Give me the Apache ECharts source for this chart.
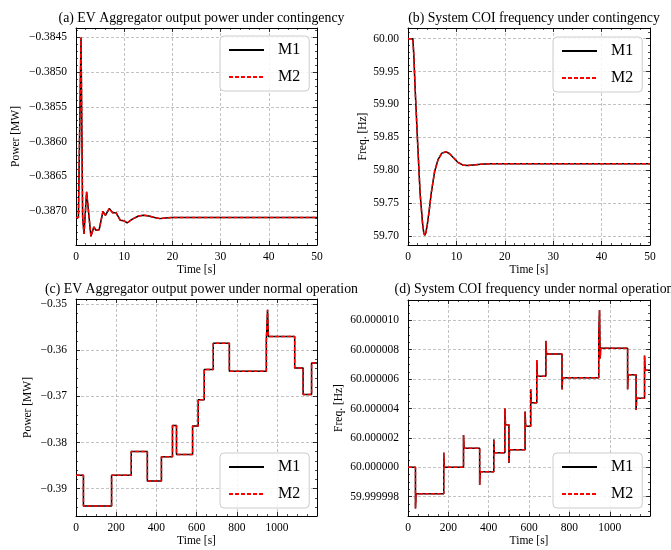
<!DOCTYPE html>
<html>
<head>
<meta charset="utf-8">
<script src="https://cdn.jsdelivr.net/npm/echarts@6/dist/echarts.min.js"></script>
<style>html,body{margin:0;padding:0;background:#fff}#c{width:671px;height:550px}</style>
</head>
<body>
<div id="c"></div>
<script>
// ---------- DATA ----------
// (a) EV aggregator output power under contingency [MW] vs time [s]
const aTime = [0, 0.5, 0.85, 1.04, 1.38, 1.66, 2.2, 3.1, 3.7, 4.15, 4.55, 4.8, 5.6, 6.1, 6.9, 7.6, 8.3, 9.2, 9.9, 10.6, 11.6, 13.0, 14.0, 15.1, 16.3, 17.4, 18.5, 20, 30, 40, 50];
const aM1 = [-0.387095, -0.387095, -0.387095, -0.38450, -0.38709, -0.38733, -0.386725, -0.387366, -0.387231, -0.387279, -0.387255, -0.38727, -0.387004, -0.387062, -0.386965, -0.387024, -0.387024, -0.387134, -0.38714, -0.387173, -0.38712, -0.387072, -0.387062, -0.387072, -0.387095, -0.38711, -0.38710, -0.387095, -0.387095, -0.387095, -0.387095];
const aM2 = [-0.387095, -0.387095, -0.387095, -0.38450, -0.38709, -0.38733, -0.386725, -0.387366, -0.387231, -0.387279, -0.387255, -0.38727, -0.387004, -0.387062, -0.386965, -0.387024, -0.387024, -0.387134, -0.38714, -0.387173, -0.38712, -0.387072, -0.387062, -0.387072, -0.387095, -0.38711, -0.38710, -0.387095, -0.387095, -0.387095, -0.387095];

// (b) System COI frequency under contingency [Hz]
const bTime = [0, 1.0, 1.2, 1.5, 2.0, 2.5, 3.0, 3.25, 3.45, 3.7, 4.0, 4.4, 4.8, 5.5, 6.2, 7.0, 7.9, 8.6, 9.4, 10.3, 11.3, 12.3, 13.5, 15, 17, 20, 30, 40, 50];
const bM1 = [60.0, 60.0, 59.975, 59.92, 59.84, 59.765, 59.72, 59.705, 59.701, 59.705, 59.718, 59.74, 59.765, 59.798, 59.816, 59.826, 59.828, 59.825, 59.819, 59.812, 59.808, 59.807, 59.808, 59.809, 59.81, 59.81, 59.81, 59.81, 59.81];
const bM2 = [60.0, 60.0, 59.975, 59.92, 59.84, 59.765, 59.72, 59.705, 59.701, 59.705, 59.718, 59.74, 59.765, 59.798, 59.816, 59.826, 59.828, 59.825, 59.819, 59.812, 59.808, 59.807, 59.808, 59.809, 59.81, 59.81, 59.81, 59.81, 59.81];

// (c) EV aggregator output power under normal operation [MW] (level from each time on)
const cTime = [0, 37, 177, 275, 355, 425, 480, 500, 580, 608, 638, 683, 763, 947, 953, 957, 1088, 1130, 1172, 1199];
const cM1 = [-0.38712, -0.39375, -0.38712, -0.38193, -0.38834, -0.38308, -0.37631, -0.38258, -0.37645, -0.37076, -0.36420, -0.35850, -0.36456, -0.35786, -0.35123, -0.35706, -0.36384, -0.36960, -0.36276, -0.36276];
const cM2 = [-0.38712, -0.39375, -0.38712, -0.38193, -0.38834, -0.38308, -0.37631, -0.38258, -0.37645, -0.37076, -0.36420, -0.35850, -0.36456, -0.35786, -0.35123, -0.35706, -0.36384, -0.36960, -0.36276, -0.36276];

// (d) System COI frequency under normal operation [Hz] (level from each time on)
const dTime = [0, 37, 40, 177, 180, 275, 278, 355, 358, 425, 428, 480, 483, 500, 503, 580, 583, 608, 611, 638, 641, 683, 686, 763, 766, 945, 949, 952, 955, 1088, 1091, 1130, 1133, 1172, 1175, 1199];
const dM1 = [60.0000000, 59.9999972, 59.9999982, 60.0000010, 60.0000000, 60.0000022, 60.0000013, 59.9999988, 59.9999997, 60.0000019, 60.0000010, 60.0000040, 60.0000029, 60.0000003, 60.0000012, 60.0000038, 60.0000028, 60.0000053, 60.0000044, 60.0000073, 60.0000062, 60.0000086, 60.0000077, 60.0000053, 60.0000061, 60.0000089, 60.0000107, 60.0000074, 60.0000081, 60.0000053, 60.0000063, 60.0000039, 60.0000047, 60.0000076, 60.0000066, 60.0000066];
const dM2 = [60.0000000, 59.9999972, 59.9999982, 60.0000010, 60.0000000, 60.0000022, 60.0000013, 59.9999988, 59.9999997, 60.0000019, 60.0000010, 60.0000040, 60.0000029, 60.0000003, 60.0000012, 60.0000038, 60.0000028, 60.0000053, 60.0000044, 60.0000073, 60.0000062, 60.0000086, 60.0000077, 60.0000053, 60.0000061, 60.0000089, 60.0000107, 60.0000074, 60.0000081, 60.0000053, 60.0000063, 60.0000039, 60.0000047, 60.0000076, 60.0000066, 60.0000066];

const titles = [
  '(a) EV Aggregator output power under contingency',
  '(b) System COI frequency under contingency',
  '(c) EV Aggregator output power under normal operation',
  '(d) System COI frequency under normal operation'
];
const seriesNames = ['M1', 'M2'];
const xName = 'Time [s]';
const yNames = ['Power [MW]', 'Freq. [Hz]', 'Power [MW]', 'Freq. [Hz]'];

// ---------- LAYOUT / STYLE ----------
const FONT = '"Liberation Serif", "Times New Roman", serif';
const grids = [
  {left: 76, top: 28, width: 241, height: 217},
  {left: 408, top: 28, width: 242, height: 217},
  {left: 76, top: 299, width: 241, height: 217},
  {left: 408, top: 300, width: 242, height: 216}
];
const xCfg = [
  {min: 0, max: 50, iv: 10, minor: 5},
  {min: 0, max: 50, iv: 10, minor: 5},
  {min: 0, max: 1199, iv: 200, minor: 4},
  {min: 0, max: 1199, iv: 200, minor: 4}
];
const minus = s => s.replace('-', '\u2212');
const yCfg = [
  {min: -0.38749, max: -0.384364, iv: 0.0005, minor: 5, gap: 54, fmt: v => minus(v.toFixed(4))},
  {min: 59.6863, max: 60.0162, iv: 0.05, minor: 5, gap: 39, fmt: v => v.toFixed(2)},
  {min: -0.39592, max: -0.34892, iv: 0.01, minor: 5, gap: 42, fmt: v => minus(v.toFixed(2))},
  {min: 59.99999669, max: 60.00001138, iv: 0.000002, minor: 4, gap: 63, fmt: v => v.toFixed(6)}
];
const legendPos = [
  {left: 220, top: 36}, {left: 553, top: 37}, {left: 220, top: 453}, {left: 553, top: 453}
];

function axisBase(gi, cfg, pos, main) {
  return {
    type: 'value', gridIndex: gi, position: pos,
    min: cfg.min, max: cfg.max,
    minInterval: cfg.iv, maxInterval: cfg.iv, splitNumber: 5,
    axisLine: {show: true, onZero: false, lineStyle: {color: '#000', width: 1}},
    axisTick: {show: true, inside: true, length: 4, lineStyle: {color: '#000', width: 0.8}},
    minorTick: {show: true, splitNumber: cfg.minor, length: 2, lineStyle: {color: '#000', width: 0.7}},
    splitLine: {show: main, lineStyle: {color: '#b4b4b4', width: 0.8, type: [3, 2]}},
    axisLabel: {show: main},
    z: main ? 3 : 4
  };
}

const xAxis = [], yAxis = [];
for (let i = 0; i < 4; i++) {
  const xa = axisBase(i, xCfg[i], 'bottom', true);
  xa.axisLabel = {show: true, fontFamily: FONT, fontSize: 11.5, color: '#000', margin: 6,
    showMinLabel: true, showMaxLabel: i < 2, formatter: v => String(v)};
  xa.name = xName; xa.nameLocation = 'middle'; xa.nameGap = 17;
  xa.nameTextStyle = {fontFamily: FONT, fontSize: 11.5, color: '#000'};
  xAxis.push(xa);
  const ya = axisBase(i, yCfg[i], 'left', true);
  ya.axisLabel = {show: true, fontFamily: FONT, fontSize: 11.5, color: '#000', margin: 9,
    showMinLabel: false, showMaxLabel: false, formatter: yCfg[i].fmt};
  ya.name = yNames[i]; ya.nameLocation = 'middle'; ya.nameGap = yCfg[i].gap;
  ya.nameTextStyle = {fontFamily: FONT, fontSize: 11.5, color: '#000'};
  yAxis.push(ya);
}
for (let i = 0; i < 4; i++) {
  xAxis.push(axisBase(i, xCfg[i], 'top', false));
  yAxis.push(axisBase(i, yCfg[i], 'right', false));
}

const dataSets = [
  [aTime, aM1, aM2, false], [bTime, bM1, bM2, false],
  [cTime, cM1, cM2, 'end'], [dTime, dM1, dM2, 'end']
];
const pairs = (xs, ys) => xs.map((x, k) => [x, ys[k]]);
const series = [];
dataSets.forEach(([t, m1, m2, step], i) => {
  series.push({
    name: seriesNames[0], type: 'line', xAxisIndex: i, yAxisIndex: i,
    data: pairs(t, m1), step: step, symbol: 'none', color: '#000',
    itemStyle: {color: '#000', opacity: 0},
    lineStyle: {color: '#000', width: 1.5}, z: 5
  });
  series.push({
    name: seriesNames[1], type: 'line', xAxisIndex: i, yAxisIndex: i,
    data: pairs(t, m2), step: step, symbol: 'none', color: '#ff0000',
    itemStyle: {color: '#ff0000', opacity: 0},
    lineStyle: {color: '#ff0000', width: 1.5, type: [4, 2]}, z: 6
  });
});

const title = titles.map((txt, i) => ({
  text: txt,
  left: grids[i].left + grids[i].width / 2,
  top: i < 2 ? 6 : 277,
  textAlign: 'center',
  textStyle: {fontFamily: FONT, fontSize: 13.8, fontWeight: 'normal', color: '#000'}
}));

const legend = legendPos.map(p => ({
  data: seriesNames, left: p.left, top: p.top, orient: 'vertical',
  itemWidth: 35, itemHeight: 12, itemGap: 11, padding: [6, 9, 6, 8],
  borderColor: '#cccccc', borderWidth: 1, borderRadius: 4,
  backgroundColor: 'rgba(255,255,255,0.85)', selectedMode: false,
  itemStyle: {opacity: 0},
  textStyle: {fontFamily: FONT, fontSize: 16, lineHeight: 16, color: '#000', padding: [0, 0, 0, 9]}
}));

const chart = echarts.init(document.getElementById('c'), null, {renderer: 'canvas'});
chart.setOption({
  animation: false, backgroundColor: '#fff',
  title, legend, grid: grids, xAxis, yAxis, series
});
</script>
</body>
</html>
